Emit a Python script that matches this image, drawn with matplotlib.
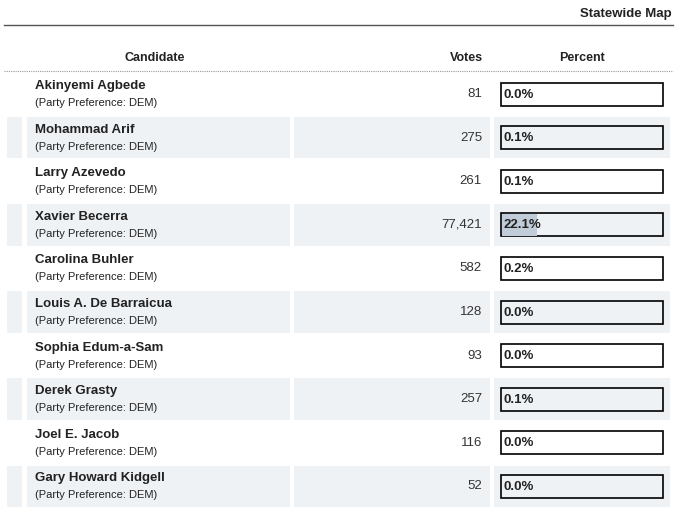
import matplotlib.pyplot as plt
from matplotlib.patches import Rectangle

candidates = ["Akinyemi Agbede", "Mohammad Arif", "Larry Azevedo", "Xavier Becerra",
              "Carolina Buhler", "Louis A. De Barraicua", "Sophia Edum-a-Sam",
              "Derek Grasty", "Joel E. Jacob", "Gary Howard Kidgell"]
party = ["DEM"] * 10
votes = [81, 275, 261, 77421, 582, 128, 93, 257, 116, 52]
percent = [0.0, 0.1, 0.1, 22.1, 0.2, 0.0, 0.0, 0.1, 0.0, 0.0]

plt.rcParams['font.family'] = ['Liberation Sans', 'DejaVu Sans']
fig = plt.figure(figsize=(6.85, 5.18), dpi=100)
ax = fig.add_axes([0, 0, 1, 1])
ax.set_xlim(0, 685)
ax.set_ylim(518, 0)
ax.axis('off')

shade = '#eff2f5'
txt = '#222222'

ax.text(672, 14, "Statewide Map", ha='right', va='center', fontsize=9.5, fontweight='bold', color=txt)
ax.plot([4, 673], [25, 25], color='#555555', lw=1)
ax.text(155, 58, "Candidate", ha='center', va='center', fontsize=9, fontweight='bold', color=txt)
ax.text(483, 58, "Votes", ha='right', va='center', fontsize=9, fontweight='bold', color=txt)
ax.text(582, 58, "Percent", ha='center', va='center', fontsize=9, fontweight='bold', color=txt)
ax.plot([4, 673], [71, 71], color='#999999', lw=0.8, ls=(0, (1, 1)))

pitch = 43.6
for i, (name, p, v, pc) in enumerate(zip(candidates, party, votes, percent)):
    cy = 94 + i * pitch
    top = cy - pitch / 2 + 1
    if i % 2 == 1:
        for x0, x1 in [(7, 22), (27, 290), (294, 490), (494, 670)]:
            ax.add_patch(Rectangle((x0, top), x1 - x0, pitch - 2, color=shade, lw=0))
    ax.text(35, cy - 8, name, ha='left', va='center', fontsize=9.5, fontweight='bold', color=txt)
    ax.text(35, cy + 9, f"(Party Preference: {p})", ha='left', va='center', fontsize=8, color=txt)
    ax.text(482, cy, f"{v:,}", ha='right', va='center', fontsize=9.5, color='#333333')
    bx, bw, bh = 501, 162, 23
    ax.add_patch(Rectangle((bx, cy - bh / 2), bw, bh, facecolor='white' if i % 2 == 0 else shade,
                           edgecolor='black', lw=1.2))
    if pc > 0:
        ax.add_patch(Rectangle((bx + 0.6, cy - bh / 2 + 0.6), bw * pc / 100, bh - 1.2,
                               facecolor='#c0ccd8', lw=0))
    ax.text(bx + 3, cy + 0.5, f"{pc:.1f}%", ha='left', va='center', fontsize=9.5, fontweight='bold', color=txt)

fig.savefig('out.png', dpi=100)
